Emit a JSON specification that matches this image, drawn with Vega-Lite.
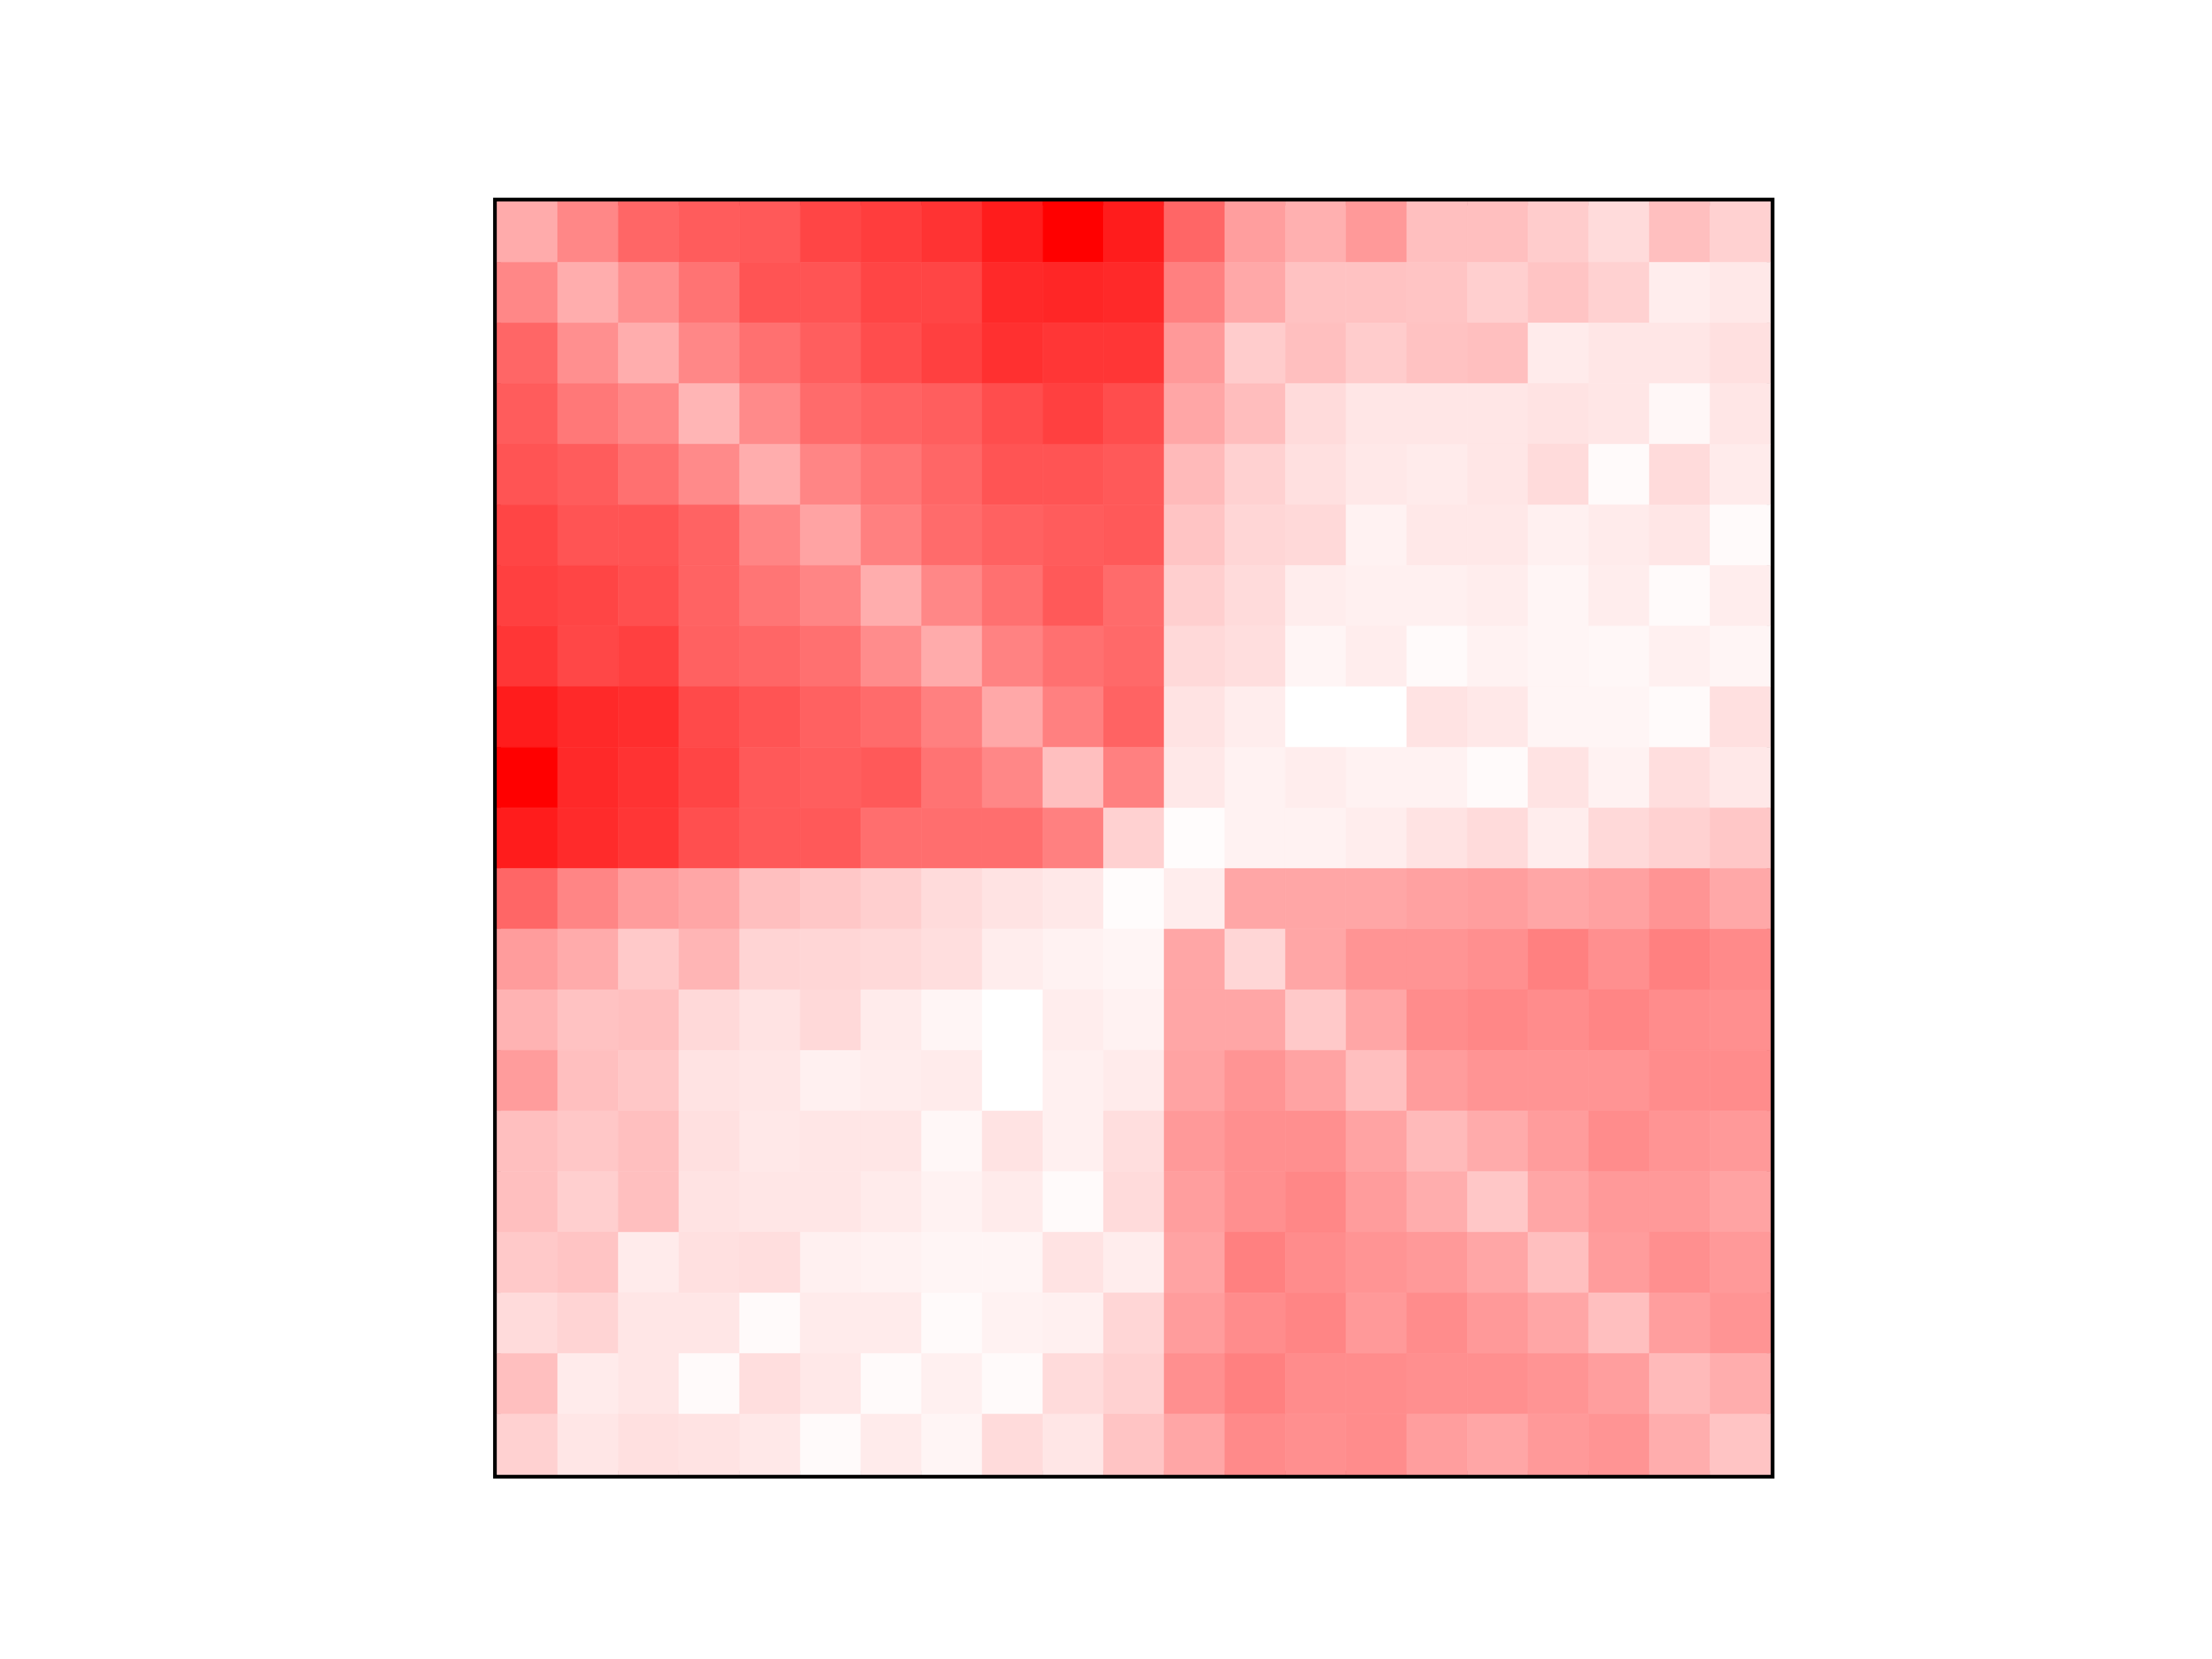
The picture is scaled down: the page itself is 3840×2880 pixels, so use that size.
{
"$schema": "https://vega.github.io/schema/vega-lite/v6.json",
"width": 2211, "height": 2210,
"autosize": {"type": "none"},
"padding": {"left": 862.7, "top": 350, "right": 40, "bottom": 40},
"background": "white",
"config": {"view": {"stroke": "black", "strokeWidth": 13.4}},
"datasets": {"m": [
{"r":0,"c":0,"v":0.33},{"r":0,"c":1,"v":0.47},{"r":0,"c":2,"v":0.6},{"r":0,"c":3,"v":0.64},{"r":0,"c":4,"v":0.65},{"r":0,"c":5,"v":0.73},{"r":0,"c":6,"v":0.76},{"r":0,"c":7,"v":0.8},{"r":0,"c":8,"v":0.89},{"r":0,"c":9,"v":1.0},{"r":0,"c":10,"v":0.89},{"r":0,"c":11,"v":0.6},{"r":0,"c":12,"v":0.38},{"r":0,"c":13,"v":0.31},{"r":0,"c":14,"v":0.4},{"r":0,"c":15,"v":0.25},{"r":0,"c":16,"v":0.25},{"r":0,"c":17,"v":0.2},{"r":0,"c":18,"v":0.14},{"r":0,"c":19,"v":0.25},{"r":0,"c":20,"v":0.18},
{"r":1,"c":0,"v":0.47},{"r":1,"c":1,"v":0.32},{"r":1,"c":2,"v":0.44},{"r":1,"c":3,"v":0.55},{"r":1,"c":4,"v":0.67},{"r":1,"c":5,"v":0.67},{"r":1,"c":6,"v":0.73},{"r":1,"c":7,"v":0.73},{"r":1,"c":8,"v":0.84},{"r":1,"c":9,"v":0.85},{"r":1,"c":10,"v":0.84},{"r":1,"c":11,"v":0.5},{"r":1,"c":12,"v":0.34},{"r":1,"c":13,"v":0.24},{"r":1,"c":14,"v":0.24},{"r":1,"c":15,"v":0.23},{"r":1,"c":16,"v":0.19},{"r":1,"c":17,"v":0.23},{"r":1,"c":18,"v":0.18},{"r":1,"c":19,"v":0.07},{"r":1,"c":20,"v":0.09},
{"r":2,"c":0,"v":0.6},{"r":2,"c":1,"v":0.44},{"r":2,"c":2,"v":0.32},{"r":2,"c":3,"v":0.47},{"r":2,"c":4,"v":0.56},{"r":2,"c":5,"v":0.63},{"r":2,"c":6,"v":0.7},{"r":2,"c":7,"v":0.75},{"r":2,"c":8,"v":0.81},{"r":2,"c":9,"v":0.79},{"r":2,"c":10,"v":0.79},{"r":2,"c":11,"v":0.4},{"r":2,"c":12,"v":0.2},{"r":2,"c":13,"v":0.25},{"r":2,"c":14,"v":0.2},{"r":2,"c":15,"v":0.24},{"r":2,"c":16,"v":0.25},{"r":2,"c":17,"v":0.08},{"r":2,"c":18,"v":0.1},{"r":2,"c":19,"v":0.1},{"r":2,"c":20,"v":0.12},
{"r":3,"c":0,"v":0.64},{"r":3,"c":1,"v":0.53},{"r":3,"c":2,"v":0.47},{"r":3,"c":3,"v":0.29},{"r":3,"c":4,"v":0.46},{"r":3,"c":5,"v":0.58},{"r":3,"c":6,"v":0.61},{"r":3,"c":7,"v":0.63},{"r":3,"c":8,"v":0.7},{"r":3,"c":9,"v":0.75},{"r":3,"c":10,"v":0.7},{"r":3,"c":11,"v":0.35},{"r":3,"c":12,"v":0.26},{"r":3,"c":13,"v":0.14},{"r":3,"c":14,"v":0.1},{"r":3,"c":15,"v":0.1},{"r":3,"c":16,"v":0.1},{"r":3,"c":17,"v":0.11},{"r":3,"c":18,"v":0.1},{"r":3,"c":19,"v":0.03},{"r":3,"c":20,"v":0.1},
{"r":4,"c":0,"v":0.67},{"r":4,"c":1,"v":0.64},{"r":4,"c":2,"v":0.56},{"r":4,"c":3,"v":0.46},{"r":4,"c":4,"v":0.32},{"r":4,"c":5,"v":0.48},{"r":4,"c":6,"v":0.54},{"r":4,"c":7,"v":0.6},{"r":4,"c":8,"v":0.67},{"r":4,"c":9,"v":0.67},{"r":4,"c":10,"v":0.65},{"r":4,"c":11,"v":0.27},{"r":4,"c":12,"v":0.18},{"r":4,"c":13,"v":0.12},{"r":4,"c":14,"v":0.09},{"r":4,"c":15,"v":0.08},{"r":4,"c":16,"v":0.1},{"r":4,"c":17,"v":0.14},{"r":4,"c":18,"v":0.02},{"r":4,"c":19,"v":0.14},{"r":4,"c":20,"v":0.08},
{"r":5,"c":0,"v":0.73},{"r":5,"c":1,"v":0.67},{"r":5,"c":2,"v":0.67},{"r":5,"c":3,"v":0.61},{"r":5,"c":4,"v":0.48},{"r":5,"c":5,"v":0.36},{"r":5,"c":6,"v":0.5},{"r":5,"c":7,"v":0.58},{"r":5,"c":8,"v":0.62},{"r":5,"c":9,"v":0.64},{"r":5,"c":10,"v":0.65},{"r":5,"c":11,"v":0.23},{"r":5,"c":12,"v":0.16},{"r":5,"c":13,"v":0.15},{"r":5,"c":14,"v":0.05},{"r":5,"c":15,"v":0.09},{"r":5,"c":16,"v":0.09},{"r":5,"c":17,"v":0.06},{"r":5,"c":18,"v":0.08},{"r":5,"c":19,"v":0.1},{"r":5,"c":20,"v":0.02},
{"r":6,"c":0,"v":0.75},{"r":6,"c":1,"v":0.73},{"r":6,"c":2,"v":0.69},{"r":6,"c":3,"v":0.61},{"r":6,"c":4,"v":0.54},{"r":6,"c":5,"v":0.48},{"r":6,"c":6,"v":0.32},{"r":6,"c":7,"v":0.47},{"r":6,"c":8,"v":0.56},{"r":6,"c":9,"v":0.65},{"r":6,"c":10,"v":0.58},{"r":6,"c":11,"v":0.19},{"r":6,"c":12,"v":0.14},{"r":6,"c":13,"v":0.07},{"r":6,"c":14,"v":0.06},{"r":6,"c":15,"v":0.06},{"r":6,"c":16,"v":0.07},{"r":6,"c":17,"v":0.04},{"r":6,"c":18,"v":0.07},{"r":6,"c":19,"v":0.02},{"r":6,"c":20,"v":0.07},
{"r":7,"c":0,"v":0.79},{"r":7,"c":1,"v":0.72},{"r":7,"c":2,"v":0.75},{"r":7,"c":3,"v":0.62},{"r":7,"c":4,"v":0.6},{"r":7,"c":5,"v":0.56},{"r":7,"c":6,"v":0.45},{"r":7,"c":7,"v":0.33},{"r":7,"c":8,"v":0.49},{"r":7,"c":9,"v":0.56},{"r":7,"c":10,"v":0.59},{"r":7,"c":11,"v":0.15},{"r":7,"c":12,"v":0.13},{"r":7,"c":13,"v":0.04},{"r":7,"c":14,"v":0.07},{"r":7,"c":15,"v":0.02},{"r":7,"c":16,"v":0.05},{"r":7,"c":17,"v":0.04},{"r":7,"c":18,"v":0.03},{"r":7,"c":19,"v":0.06},{"r":7,"c":20,"v":0.04},
{"r":8,"c":0,"v":0.89},{"r":8,"c":1,"v":0.84},{"r":8,"c":2,"v":0.82},{"r":8,"c":3,"v":0.71},{"r":8,"c":4,"v":0.67},{"r":8,"c":5,"v":0.62},{"r":8,"c":6,"v":0.58},{"r":8,"c":7,"v":0.5},{"r":8,"c":8,"v":0.34},{"r":8,"c":9,"v":0.5},{"r":8,"c":10,"v":0.61},{"r":8,"c":11,"v":0.11},{"r":8,"c":12,"v":0.07},{"r":8,"c":13,"v":0.0},{"r":8,"c":14,"v":0.0},{"r":8,"c":15,"v":0.11},{"r":8,"c":16,"v":0.09},{"r":8,"c":17,"v":0.04},{"r":8,"c":18,"v":0.04},{"r":8,"c":19,"v":0.02},{"r":8,"c":20,"v":0.12},
{"r":9,"c":0,"v":1.0},{"r":9,"c":1,"v":0.84},{"r":9,"c":2,"v":0.8},{"r":9,"c":3,"v":0.73},{"r":9,"c":4,"v":0.65},{"r":9,"c":5,"v":0.63},{"r":9,"c":6,"v":0.65},{"r":9,"c":7,"v":0.55},{"r":9,"c":8,"v":0.47},{"r":9,"c":9,"v":0.25},{"r":9,"c":10,"v":0.5},{"r":9,"c":11,"v":0.09},{"r":9,"c":12,"v":0.05},{"r":9,"c":13,"v":0.07},{"r":9,"c":14,"v":0.05},{"r":9,"c":15,"v":0.05},{"r":9,"c":16,"v":0.02},{"r":9,"c":17,"v":0.11},{"r":9,"c":18,"v":0.05},{"r":9,"c":19,"v":0.13},{"r":9,"c":20,"v":0.09},
{"r":10,"c":0,"v":0.89},{"r":10,"c":1,"v":0.83},{"r":10,"c":2,"v":0.79},{"r":10,"c":3,"v":0.69},{"r":10,"c":4,"v":0.65},{"r":10,"c":5,"v":0.65},{"r":10,"c":6,"v":0.57},{"r":10,"c":7,"v":0.57},{"r":10,"c":8,"v":0.57},{"r":10,"c":9,"v":0.5},{"r":10,"c":10,"v":0.18},{"r":10,"c":11,"v":0.01},{"r":10,"c":12,"v":0.05},{"r":10,"c":13,"v":0.05},{"r":10,"c":14,"v":0.07},{"r":10,"c":15,"v":0.11},{"r":10,"c":16,"v":0.14},{"r":10,"c":17,"v":0.07},{"r":10,"c":18,"v":0.15},{"r":10,"c":19,"v":0.18},{"r":10,"c":20,"v":0.22},
{"r":11,"c":0,"v":0.6},{"r":11,"c":1,"v":0.48},{"r":11,"c":2,"v":0.39},{"r":11,"c":3,"v":0.35},{"r":11,"c":4,"v":0.25},{"r":11,"c":5,"v":0.22},{"r":11,"c":6,"v":0.19},{"r":11,"c":7,"v":0.14},{"r":11,"c":8,"v":0.11},{"r":11,"c":9,"v":0.09},{"r":11,"c":10,"v":0.01},{"r":11,"c":11,"v":0.07},{"r":11,"c":12,"v":0.35},{"r":11,"c":13,"v":0.35},{"r":11,"c":14,"v":0.35},{"r":11,"c":15,"v":0.37},{"r":11,"c":16,"v":0.38},{"r":11,"c":17,"v":0.35},{"r":11,"c":18,"v":0.37},{"r":11,"c":19,"v":0.42},{"r":11,"c":20,"v":0.34},
{"r":12,"c":0,"v":0.39},{"r":12,"c":1,"v":0.33},{"r":12,"c":2,"v":0.21},{"r":12,"c":3,"v":0.29},{"r":12,"c":4,"v":0.17},{"r":12,"c":5,"v":0.16},{"r":12,"c":6,"v":0.15},{"r":12,"c":7,"v":0.13},{"r":12,"c":8,"v":0.07},{"r":12,"c":9,"v":0.05},{"r":12,"c":10,"v":0.04},{"r":12,"c":11,"v":0.35},{"r":12,"c":12,"v":0.16},{"r":12,"c":13,"v":0.35},{"r":12,"c":14,"v":0.42},{"r":12,"c":15,"v":0.42},{"r":12,"c":16,"v":0.44},{"r":12,"c":17,"v":0.5},{"r":12,"c":18,"v":0.44},{"r":12,"c":19,"v":0.5},{"r":12,"c":20,"v":0.46},
{"r":13,"c":0,"v":0.3},{"r":13,"c":1,"v":0.24},{"r":13,"c":2,"v":0.25},{"r":13,"c":3,"v":0.15},{"r":13,"c":4,"v":0.11},{"r":13,"c":5,"v":0.15},{"r":13,"c":6,"v":0.08},{"r":13,"c":7,"v":0.04},{"r":13,"c":8,"v":0.0},{"r":13,"c":9,"v":0.07},{"r":13,"c":10,"v":0.05},{"r":13,"c":11,"v":0.35},{"r":13,"c":12,"v":0.35},{"r":13,"c":13,"v":0.21},{"r":13,"c":14,"v":0.35},{"r":13,"c":15,"v":0.45},{"r":13,"c":16,"v":0.47},{"r":13,"c":17,"v":0.45},{"r":13,"c":18,"v":0.48},{"r":13,"c":19,"v":0.45},{"r":13,"c":20,"v":0.44},
{"r":14,"c":0,"v":0.39},{"r":14,"c":1,"v":0.25},{"r":14,"c":2,"v":0.22},{"r":14,"c":3,"v":0.11},{"r":14,"c":4,"v":0.1},{"r":14,"c":5,"v":0.06},{"r":14,"c":6,"v":0.07},{"r":14,"c":7,"v":0.08},{"r":14,"c":8,"v":0.0},{"r":14,"c":9,"v":0.06},{"r":14,"c":10,"v":0.08},{"r":14,"c":11,"v":0.36},{"r":14,"c":12,"v":0.42},{"r":14,"c":13,"v":0.36},{"r":14,"c":14,"v":0.25},{"r":14,"c":15,"v":0.39},{"r":14,"c":16,"v":0.42},{"r":14,"c":17,"v":0.42},{"r":14,"c":18,"v":0.42},{"r":14,"c":19,"v":0.45},{"r":14,"c":20,"v":0.45},
{"r":15,"c":0,"v":0.25},{"r":15,"c":1,"v":0.22},{"r":15,"c":2,"v":0.25},{"r":15,"c":3,"v":0.12},{"r":15,"c":4,"v":0.09},{"r":15,"c":5,"v":0.1},{"r":15,"c":6,"v":0.1},{"r":15,"c":7,"v":0.03},{"r":15,"c":8,"v":0.11},{"r":15,"c":9,"v":0.06},{"r":15,"c":10,"v":0.13},{"r":15,"c":11,"v":0.4},{"r":15,"c":12,"v":0.44},{"r":15,"c":13,"v":0.44},{"r":15,"c":14,"v":0.36},{"r":15,"c":15,"v":0.27},{"r":15,"c":16,"v":0.33},{"r":15,"c":17,"v":0.39},{"r":15,"c":18,"v":0.45},{"r":15,"c":19,"v":0.42},{"r":15,"c":20,"v":0.4},
{"r":16,"c":0,"v":0.25},{"r":16,"c":1,"v":0.19},{"r":16,"c":2,"v":0.25},{"r":16,"c":3,"v":0.11},{"r":16,"c":4,"v":0.1},{"r":16,"c":5,"v":0.1},{"r":16,"c":6,"v":0.08},{"r":16,"c":7,"v":0.05},{"r":16,"c":8,"v":0.08},{"r":16,"c":9,"v":0.02},{"r":16,"c":10,"v":0.14},{"r":16,"c":11,"v":0.38},{"r":16,"c":12,"v":0.44},{"r":16,"c":13,"v":0.47},{"r":16,"c":14,"v":0.39},{"r":16,"c":15,"v":0.32},{"r":16,"c":16,"v":0.22},{"r":16,"c":17,"v":0.35},{"r":16,"c":18,"v":0.4},{"r":16,"c":19,"v":0.4},{"r":16,"c":20,"v":0.36},
{"r":17,"c":0,"v":0.21},{"r":17,"c":1,"v":0.23},{"r":17,"c":2,"v":0.08},{"r":17,"c":3,"v":0.12},{"r":17,"c":4,"v":0.13},{"r":17,"c":5,"v":0.06},{"r":17,"c":6,"v":0.05},{"r":17,"c":7,"v":0.04},{"r":17,"c":8,"v":0.04},{"r":17,"c":9,"v":0.11},{"r":17,"c":10,"v":0.07},{"r":17,"c":11,"v":0.36},{"r":17,"c":12,"v":0.5},{"r":17,"c":13,"v":0.45},{"r":17,"c":14,"v":0.42},{"r":17,"c":15,"v":0.4},{"r":17,"c":16,"v":0.35},{"r":17,"c":17,"v":0.25},{"r":17,"c":18,"v":0.39},{"r":17,"c":19,"v":0.44},{"r":17,"c":20,"v":0.4},
{"r":18,"c":0,"v":0.14},{"r":18,"c":1,"v":0.17},{"r":18,"c":2,"v":0.1},{"r":18,"c":3,"v":0.1},{"r":18,"c":4,"v":0.02},{"r":18,"c":5,"v":0.08},{"r":18,"c":6,"v":0.08},{"r":18,"c":7,"v":0.02},{"r":18,"c":8,"v":0.05},{"r":18,"c":9,"v":0.06},{"r":18,"c":10,"v":0.16},{"r":18,"c":11,"v":0.39},{"r":18,"c":12,"v":0.45},{"r":18,"c":13,"v":0.48},{"r":18,"c":14,"v":0.4},{"r":18,"c":15,"v":0.45},{"r":18,"c":16,"v":0.4},{"r":18,"c":17,"v":0.35},{"r":18,"c":18,"v":0.25},{"r":18,"c":19,"v":0.38},{"r":18,"c":20,"v":0.42},
{"r":19,"c":0,"v":0.25},{"r":19,"c":1,"v":0.08},{"r":19,"c":2,"v":0.1},{"r":19,"c":3,"v":0.02},{"r":19,"c":4,"v":0.13},{"r":19,"c":5,"v":0.09},{"r":19,"c":6,"v":0.02},{"r":19,"c":7,"v":0.06},{"r":19,"c":8,"v":0.02},{"r":19,"c":9,"v":0.14},{"r":19,"c":10,"v":0.18},{"r":19,"c":11,"v":0.44},{"r":19,"c":12,"v":0.5},{"r":19,"c":13,"v":0.45},{"r":19,"c":14,"v":0.45},{"r":19,"c":15,"v":0.44},{"r":19,"c":16,"v":0.44},{"r":19,"c":17,"v":0.42},{"r":19,"c":18,"v":0.38},{"r":19,"c":19,"v":0.27},{"r":19,"c":20,"v":0.32},
{"r":20,"c":0,"v":0.18},{"r":20,"c":1,"v":0.1},{"r":20,"c":2,"v":0.12},{"r":20,"c":3,"v":0.11},{"r":20,"c":4,"v":0.09},{"r":20,"c":5,"v":0.02},{"r":20,"c":6,"v":0.08},{"r":20,"c":7,"v":0.04},{"r":20,"c":8,"v":0.14},{"r":20,"c":9,"v":0.1},{"r":20,"c":10,"v":0.23},{"r":20,"c":11,"v":0.35},{"r":20,"c":12,"v":0.46},{"r":20,"c":13,"v":0.44},{"r":20,"c":14,"v":0.45},{"r":20,"c":15,"v":0.38},{"r":20,"c":16,"v":0.35},{"r":20,"c":17,"v":0.4},{"r":20,"c":18,"v":0.42},{"r":20,"c":19,"v":0.32},{"r":20,"c":20,"v":0.23}
]},
"data": {"name": "m"},
"mark": {"type": "rect", "strokeWidth": 0.6},
"encoding": {
"x": {"field": "c", "type": "ordinal", "axis": null, "scale": {"paddingInner": 0, "paddingOuter": 0}},
"y": {"field": "r", "type": "ordinal", "axis": null, "scale": {"paddingInner": 0, "paddingOuter": 0}},
"color": {"field": "v", "type": "quantitative", "legend": null, "scale": {"domain": [0, 1], "range": ["#ffffff", "#ff0000"], "interpolate": "rgb"}},
"stroke": {"field": "v", "type": "quantitative", "legend": null, "scale": {"domain": [0, 1], "range": ["#ffffff", "#ff0000"], "interpolate": "rgb"}}
}
}
